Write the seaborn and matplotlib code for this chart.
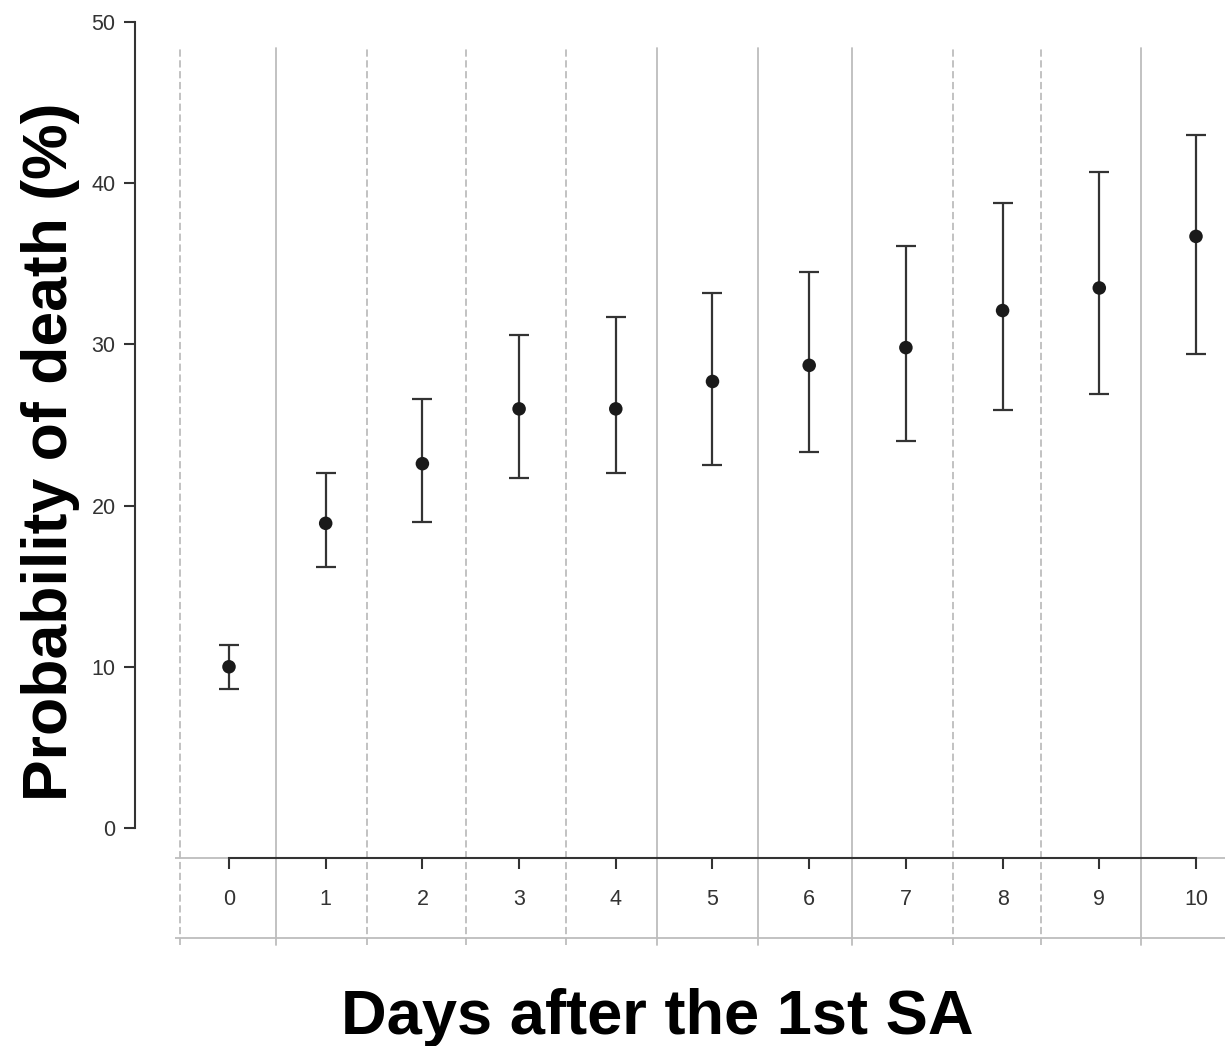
import matplotlib
matplotlib.use("Agg")
import matplotlib.pyplot as plt
import seaborn as sns
import pandas as pd

# ---- data ----
days = [0, 1, 2, 3, 4, 5, 6, 7, 8, 9, 10]
prob = [10.0, 18.9, 22.6, 26.0, 26.0, 27.7, 28.7, 29.8, 32.1, 33.5, 36.7]
ci_low = [8.65, 16.2, 19.0, 21.7, 22.0, 22.5, 23.3, 24.0, 25.9, 26.9, 29.4]
ci_high = [11.35, 22.0, 26.6, 30.6, 31.7, 33.2, 34.5, 36.1, 38.8, 40.7, 43.0]
y_ticks = [0, 10, 20, 30, 40, 50]
x_label = "Days after the 1st SA"
y_label = "Probability of death (%)"

# separators between day columns (table-like grid of the original)
separators = [-0.51, 0.49, 1.43, 2.45, 3.49, 4.43, 5.47, 6.44, 7.49, 8.40, 9.43]
sep_styles = ['--', '-', '--', '--', '--', '-', '-', '-', '--', '--', '-']

df = pd.DataFrame({'day': days, 'prob': prob, 'lo': ci_low, 'hi': ci_high})

sns.set_theme(style="white")
plt.rcParams['font.family'] = ['Liberation Sans', 'DejaVu Sans']

W, H = 1225, 1046
fig = plt.figure(figsize=(W / 100, H / 100), dpi=100)
ax = fig.add_axes([135 / W, 101 / H, 1090 / W, 923 / H])

grid_col = '#bdbdbd'
for xs, ls in zip(separators, sep_styles):
    ax.plot([xs, xs], [-7.26, 48.4], color=grid_col, lw=1.3, ls=ls,
            dashes=(4, 2) if ls == '--' else (None, None), zorder=1, clip_on=False)
ax.hlines([-1.86, -6.82], -0.56, 10.3, color=grid_col, lw=1.3, zorder=1)

ax.errorbar(df['day'], df['prob'],
            yerr=[df['prob'] - df['lo'], df['hi'] - df['prob']],
            fmt='none', ecolor='#333333', elinewidth=1.6, capsize=7.5,
            capthick=1.6, zorder=3)
sns.scatterplot(data=df, x='day', y='prob', color='#1a1a1a', s=95,
                edgecolor='none', zorder=4, ax=ax)

ax.set_xlim(-0.972, 10.30)
ax.set_ylim(-7.26, 50)
ax.set_xticks(days)
ax.set_yticks(y_ticks)
ax.set_xlabel('')
ax.set_ylabel('')
ax.grid(False)

for s in ['top', 'right']:
    ax.spines[s].set_visible(False)
ax.spines['left'].set_bounds(0, 50)
ax.spines['bottom'].set_position(('data', -1.86))
ax.spines['bottom'].set_bounds(0, 10)
for s in ['left', 'bottom']:
    ax.spines[s].set_color('#333333')
    ax.spines[s].set_linewidth(1.5)
    ax.spines[s].set_zorder(5)

ax.tick_params(axis='both', which='major', bottom=True, left=True,
               direction='out', length=8, width=1.5,
               color='#333333', labelsize=15.5, labelcolor='#333333')
ax.tick_params(axis='x', pad=14)
ax.tick_params(axis='y', pad=6)

fig.text(51 / W, 1 - 452 / H, y_label, rotation=90, ha='center', va='center',
         fontsize=45, fontweight='bold', color='black')
fig.text(657 / W, 1 - 1034 / H, x_label, ha='center', va='baseline',
         fontsize=45.5, fontweight='bold', color='black')

fig.savefig('out.png', dpi=100)
